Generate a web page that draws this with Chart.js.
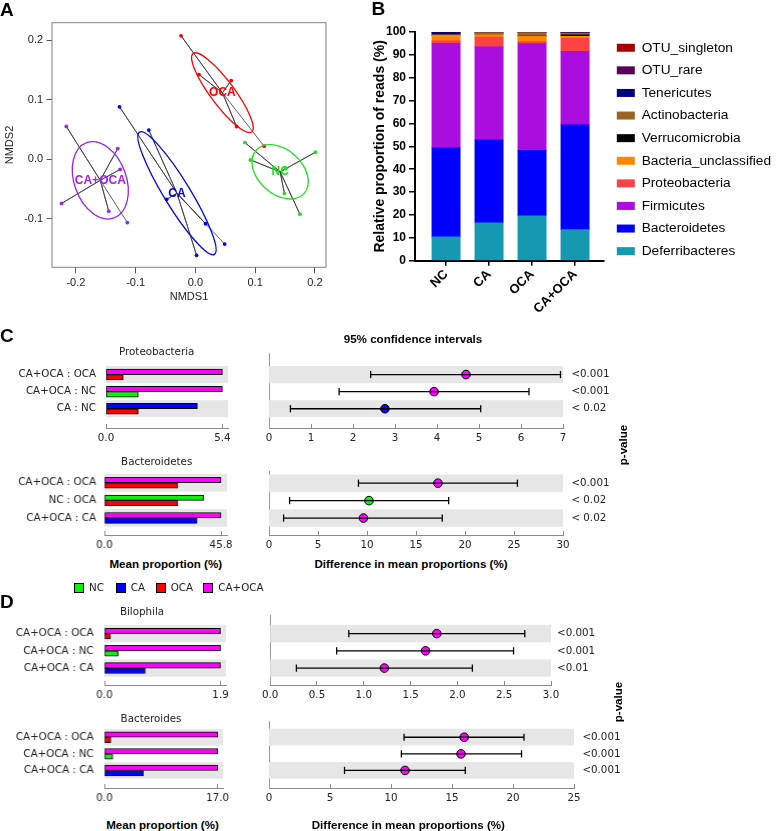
<!DOCTYPE html>
<html>
<head>
<meta charset="utf-8">
<title>Microbiota figure</title>
<script src="https://cdn.jsdelivr.net/npm/chart.js@4.4.1/dist/chart.umd.min.js"></script>
<style>
  html, body { margin: 0; padding: 0; background: #fff; }
  body { position: relative; width: 777px; height: 831px; overflow: hidden; }
  canvas { position: absolute; }
  .txt { position: absolute; white-space: nowrap; line-height: 1; color: #000; }
</style>
</head>
<body>
<script>
// ---------- A: NMDS ordination ----------
var nmdsGroups = ['NC', 'CA', 'OCA', 'CA+OCA'];
var ncNmds1 = [0.083, 0.092, 0.201, 0.149, 0.175, 0.151];
var ncNmds2 = [0.028, -0.001, 0.012, -0.057, -0.092, -0.016];
var caNmds1 = [-0.127, -0.078, -0.048, 0.017, 0.002, 0.049];
var caNmds2 = [0.088, 0.049, -0.067, -0.108, -0.161, -0.142];
var ocaNmds1 = [-0.024, 0.006, 0.060, 0.069, 0.115];
var ocaNmds2 = [0.207, 0.142, 0.132, 0.055, 0.022];
var caocaNmds1 = [-0.216, -0.130, -0.126, -0.224, -0.145, -0.114];
var caocaNmds2 = [0.055, 0.018, -0.017, -0.074, -0.087, -0.106];
var ellipseMajor = [0.054, 0.120, 0.082, 0.067];
var ellipseMinor = [0.037, 0.022, 0.020, 0.0435];
var ellipseAngle = [42, 58.5, 53.3, 70];
var nmdsTicksX = [-0.2, -0.1, 0, 0.1, 0.2];
var nmdsTicksY = [-0.1, 0, 0.1, 0.2];

// ---------- B: relative abundance (%) ----------
var readGroups = ['NC', 'CA', 'OCA', 'CA+OCA'];
var phyla = ['Deferribacteres', 'Bacteroidetes', 'Firmicutes', 'Proteobacteria', 'Bacteria_unclassified',
  'Verrucomicrobia', 'Actinobacteria', 'Tenericutes', 'OTU_rare', 'OTU_singleton'];
var deferribacteres = [10.4, 16.6, 19.6, 13.6];
var bacteroidetes = [38.9, 36.2, 28.7, 45.8];
var firmicutes = [45.7, 40.7, 46.6, 32.2];
var proteobacteria = [1.3, 4.3, 0.9, 5.6];
var bacteriaUnclassified = [2.2, 1.1, 2.3, 0.9];
var verrucomicrobia = [0.1, 0.1, 0.1, 0.7];
var actinobacteria = [0.3, 0.8, 1.5, 0.7];
var tenericutes = [0.8, 0.1, 0.1, 0.1];
var otuRare = [0.2, 0.1, 0.2, 0.3];
var otuSingleton = [0.1, 0.0, 0.0, 0.1];

// ---------- C / D: STAMP style comparisons ----------
var proteoRows = ['CA+OCA : OCA', 'CA+OCA : NC', 'CA : NC'];
var proteoMeanA = [5.4, 5.4, 4.24];
var proteoMeanB = [0.80, 1.50, 1.50];
var proteoGrpA = ['CA+OCA', 'CA+OCA', 'CA'];
var proteoGrpB = ['OCA', 'NC', 'OCA'];
var proteoDiff = [4.69, 3.93, 2.76];
var proteoLo = [2.42, 1.67, 0.51];
var proteoHi = [6.94, 6.19, 5.04];
var proteoDot = ['CA+OCA', 'CA+OCA', 'CA'];
var proteoP = ['<0.001', '<0.001', '< 0.02'];
var proteoBarTicks = [0, 5.4];
var proteoCiTicks = [0, 1, 2, 3, 4, 5, 6, 7];

var bacteroidetesRows = ['CA+OCA : OCA', 'NC : OCA', 'CA+OCA : CA'];
var bacteroidetesMeanA = [45.8, 39.0, 45.8];
var bacteroidetesMeanB = [28.8, 28.8, 36.4];
var bacteroidetesGrpA = ['CA+OCA', 'NC', 'CA+OCA'];
var bacteroidetesGrpB = ['OCA', 'OCA', 'CA'];
var bacteroidetesDiff = [17.24, 10.2, 9.64];
var bacteroidetesLo = [9.13, 2.1, 1.49];
var bacteroidetesHi = [25.35, 18.33, 17.68];
var bacteroidetesDot = ['CA+OCA', 'NC', 'CA+OCA'];
var bacteroidetesP = ['<0.001', '< 0.02', '< 0.02'];
var bacteroidetesBarTicks = [0, 45.8];
var bacteroidetesCiTicks = [0, 5, 10, 15, 20, 25, 30];

var bilophilaRows = ['CA+OCA : OCA', 'CA+OCA : NC', 'CA+OCA : CA'];
var bilophilaMeanA = [1.9, 1.9, 1.9];
var bilophilaMeanB = [0.098, 0.224, 0.666];
var bilophilaGrpA = ['CA+OCA', 'CA+OCA', 'CA+OCA'];
var bilophilaGrpB = ['OCA', 'NC', 'CA'];
var bilophilaDiff = [1.78, 1.66, 1.22];
var bilophilaLo = [0.84, 0.71, 0.28];
var bilophilaHi = [2.72, 2.60, 2.16];
var bilophilaDot = ['CA+OCA', 'CA+OCA', 'CA+OCA'];
var bilophilaP = ['<0.001', '<0.001', '<0.01'];
var bilophilaBarTicks = [0, 1.9];
var bilophilaCiTicks = [0, 0.5, 1, 1.5, 2, 2.5, 3];

var bacteroidesRows = ['CA+OCA : OCA', 'CA+OCA : NC', 'CA+OCA : CA'];
var bacteroidesMeanA = [17.0, 17.0, 17.0];
var bacteroidesMeanB = [0.95, 1.25, 5.85];
var bacteroidesGrpA = ['CA+OCA', 'CA+OCA', 'CA+OCA'];
var bacteroidesGrpB = ['OCA', 'NC', 'CA'];
var bacteroidesDiff = [16.0, 15.74, 11.15];
var bacteroidesLo = [11.07, 10.85, 6.19];
var bacteroidesHi = [20.9, 20.7, 16.09];
var bacteroidesDot = ['CA+OCA', 'CA+OCA', 'CA+OCA'];
var bacteroidesP = ['<0.001', '<0.001', '<0.001'];
var bacteroidesBarTicks = [0, 17.0];
var bacteroidesCiTicks = [0, 5, 10, 15, 20, 25];

// ---------- styles & helpers ----------
var SANS = '"Liberation Sans", Arial, sans-serif';
var VERD = '"DejaVu Sans", Verdana, sans-serif';

Chart.defaults.animation = false;
Chart.defaults.events = [];
Chart.defaults.color = '#000';
Chart.defaults.font.family = SANS;
Chart.defaults.plugins.legend.display = false;
Chart.defaults.plugins.tooltip.enabled = false;

function addCanvas(left, top, w, h) {
  var c = document.createElement('canvas');
  c.width = w; c.height = h;
  c.style.left = left + 'px'; c.style.top = top + 'px';
  c.style.width = w + 'px'; c.style.height = h + 'px';
  document.body.appendChild(c);
  return c.getContext('2d');
}

function addText(text, x, y, css, tf) {
  var d = document.createElement('div');
  d.className = 'txt';
  d.textContent = text;
  d.style.cssText += css;
  d.style.left = x + 'px';
  d.style.top = y + 'px';
  d.style.transform = tf || 'translate(-50%, -50%)';
  document.body.appendChild(d);
  return d;
}

function fixedTicks(arr) {
  return function (s) { s.ticks = arr.map(function (v) { return { value: v }; }); };
}

// ---------- panel A ----------
var nmdsX = [ncNmds1, caNmds1, ocaNmds1, caocaNmds1];
var nmdsY = [ncNmds2, caNmds2, ocaNmds2, caocaNmds2];
var nmdsColors = ['#22dd22', '#0000ff', '#ff0000', '#a020f0'];

var centroids = nmdsX.map(function (xs, g) {
  var ys = nmdsY[g];
  var sx = 0, sy = 0;
  xs.forEach(function (v, i) { sx += v; sy += ys[i]; });
  return { x: sx / xs.length, y: sy / xs.length };
});

var nmdsSets = nmdsX.map(function (xs, g) {
  var pts = [];
  xs.forEach(function (v, i) { pts.push(centroids[g], { x: v, y: nmdsY[g][i] }); });
  return {
    data: pts, showLine: true, borderColor: '#3a3a3a', borderWidth: 0.8,
    pointRadius: function (ctx) { return ctx.dataIndex % 2 ? 1.9 : 0; },
    pointBackgroundColor: nmdsColors[g], pointBorderWidth: 0
  };
});

var nmdsPlugin = {
  id: 'nmdsExtras',
  afterDatasetsDraw: function (chart) {
    var ctx = chart.ctx, a = chart.chartArea;
    var sx = chart.scales.x, sy = chart.scales.y;
    var ppu = sx.getPixelForValue(1) - sx.getPixelForValue(0);
    ctx.save();
    ctx.strokeStyle = '#808080';
    ctx.lineWidth = 1;
    ctx.strokeRect(a.left, a.top, a.right - a.left, a.bottom - a.top);
    nmdsGroups.forEach(function (g, i) {
      ctx.beginPath();
      ctx.ellipse(sx.getPixelForValue(centroids[i].x), sy.getPixelForValue(centroids[i].y),
        ellipseMajor[i] * ppu, ellipseMinor[i] * ppu, ellipseAngle[i] * Math.PI / 180, 0, 2 * Math.PI);
      ctx.strokeStyle = nmdsColors[i];
      ctx.lineWidth = 1.3;
      ctx.stroke();
    });
    ctx.font = 'bold 12px ' + SANS;
    ctx.textAlign = 'center';
    ctx.textBaseline = 'middle';
    nmdsGroups.forEach(function (g, i) {
      ctx.fillStyle = nmdsColors[i];
      ctx.fillText(g, sx.getPixelForValue(centroids[i].x), sy.getPixelForValue(centroids[i].y));
    });
    ctx.restore();
  }
};

new Chart(addCanvas(0, 0, 340, 305), {
  type: 'scatter',
  data: { datasets: nmdsSets },
  options: {
    responsive: false,
    layout: { padding: { left: 0, top: 22.7, right: 14, bottom: 0 } },
    scales: {
      x: {
        type: 'linear', min: -0.240, max: 0.2186,
        afterBuildTicks: fixedTicks(nmdsTicksX),
        afterFit: function (s) { s.height = 37.7; },
        grid: { drawOnChartArea: false, tickLength: 6, color: '#555' },
        border: { display: false },
        ticks: { font: { size: 11 }, color: '#222', padding: 3, callback: function (v) { return v.toFixed(1); } },
        title: { display: true, text: 'NMDS1', font: { size: 11 }, color: '#222', padding: { top: 0, bottom: 1.4 } }
      },
      y: {
        type: 'linear', min: -0.181, max: 0.229,
        afterBuildTicks: fixedTicks(nmdsTicksY),
        afterFit: function (s) { s.width = 52; },
        grid: { drawOnChartArea: false, tickLength: 5.5, color: '#555' },
        border: { display: false },
        ticks: { font: { size: 11 }, color: '#222', padding: 3.4, callback: function (v) { return v.toFixed(1); } },
        title: { display: true, text: 'NMDS2', font: { size: 11 }, color: '#222', padding: { top: 3.4, bottom: 0 } }
      }
    }
  },
  plugins: [nmdsPlugin]
});

// ---------- panel B ----------
var phylumSeries = [deferribacteres, bacteroidetes, firmicutes, proteobacteria, bacteriaUnclassified,
  verrucomicrobia, actinobacteria, tenericutes, otuRare, otuSingleton];
var phylumColors = ['#1598b2', '#0000ff', '#a90ddf', '#fd4245', '#ff8800',
  '#000000', '#9c6423', '#000080', '#5c0055', '#a50000'];

new Chart(addCanvas(340, 0, 441, 330), {
  type: 'bar',
  data: {
    datasets: phyla.map(function (name, k) {
      return {
        label: name,
        data: phylumSeries[k].map(function (v, i) { return { x: i + 1, y: v }; }),
        backgroundColor: phylumColors[k], borderWidth: 0, barThickness: 28.3
      };
    })
  },
  options: {
    responsive: false,
    layout: { padding: { left: 0, top: 32, right: 0, bottom: 0 } },
    scales: {
      x: {
        type: 'linear', offset: false, stacked: true, min: 0.278, max: 4.676,
        afterBuildTicks: fixedTicks(readGroups.map(function (g, i) { return i + 1; })),
        afterFit: function (s) { s.height = 69.3; },
        grid: { drawOnChartArea: false, offset: false, tickLength: 5, color: '#000', lineWidth: 1.5 },
        border: { color: '#000', width: 2 },
        ticks: {
          autoSkip: false, maxRotation: 45, minRotation: 45, padding: 1,
          font: { size: 13, weight: 'bold' }, color: '#000',
          callback: function (v) { return readGroups[v - 1]; }
        }
      },
      y: {
        stacked: true, min: 0, max: 100,
        afterFit: function (s) { s.width = 75; },
        grid: { drawOnChartArea: false, tickLength: 6, color: '#000', lineWidth: 1.5 },
        border: { color: '#000', width: 2 },
        ticks: { stepSize: 10, font: { size: 12, weight: 'bold' }, color: '#000', padding: 3 },
        title: { display: true, text: 'Relative proportion of reads (%)', font: { size: 14, weight: 'bold' }, color: '#000', padding: { top: 31.6, bottom: 0 } }
      },
      yR: {
        position: 'right', display: true,
        grid: { display: false, drawTicks: false }, ticks: { display: false }, border: { display: false },
        afterFit: function (s) { s.width = 3.8; }
      }
    },
    plugins: {
      legend: {
        display: true, position: 'right', align: 'start', reverse: true, maxWidth: 230,
        labels: { boxWidth: 18, boxHeight: 8, padding: 8.9, color: '#000', font: { size: 13.7 } }
      }
    }
  }
});

// ---------- panels C / D ----------
var groupColor = { 'NC': '#10f010', 'CA': '#0000ff', 'OCA': '#ff0000', 'CA+OCA': '#ff00ff' };

var cdData = [
  { rows: proteoRows, meanA: proteoMeanA, meanB: proteoMeanB, grpA: proteoGrpA, grpB: proteoGrpB, diff: proteoDiff,
    lo: proteoLo, hi: proteoHi, dot: proteoDot, p: proteoP, barTicks: proteoBarTicks, ciTicks: proteoCiTicks },
  { rows: bacteroidetesRows, meanA: bacteroidetesMeanA, meanB: bacteroidetesMeanB, grpA: bacteroidetesGrpA, grpB: bacteroidetesGrpB, diff: bacteroidetesDiff,
    lo: bacteroidetesLo, hi: bacteroidetesHi, dot: bacteroidetesDot, p: bacteroidetesP, barTicks: bacteroidetesBarTicks, ciTicks: bacteroidetesCiTicks },
  { rows: bilophilaRows, meanA: bilophilaMeanA, meanB: bilophilaMeanB, grpA: bilophilaGrpA, grpB: bilophilaGrpB, diff: bilophilaDiff,
    lo: bilophilaLo, hi: bilophilaHi, dot: bilophilaDot, p: bilophilaP, barTicks: bilophilaBarTicks, ciTicks: bilophilaCiTicks },
  { rows: bacteroidesRows, meanA: bacteroidesMeanA, meanB: bacteroidesMeanB, grpA: bacteroidesGrpA, grpB: bacteroidesGrpB, diff: bacteroidesDiff,
    lo: bacteroidesLo, hi: bacteroidesHi, dot: bacteroidesDot, p: bacteroidesP, barTicks: bacteroidesBarTicks, ciTicks: bacteroidesCiTicks }
];

// pixel layout of each sub panel
var cdLayout = [
  { bandTop: 366, rowH: 17.1, axisY: 428, dashTop: 353, barL: 106, barR: 228.3, barMax: 5.66, labR: 96, ciL: 268.7, ciR: 563.3, ciMax: 7, dec: 0, pX: 571.7 },
  { bandTop: 474, rowH: 17.57, axisY: 535, dashTop: 470.5, barL: 104, barR: 226.7, barMax: 48.15, labR: 95.7, ciL: 268.7, ciR: 563.3, ciMax: 30, dec: 0, pX: 571.7 },
  { bandTop: 625, rowH: 17.23, axisY: 685, dashTop: 615, barL: 104, barR: 225.7, barMax: 1.99, labR: 93.3, ciL: 268.7, ciR: 550.7, ciMax: 3, dec: 1, pX: 556.7 },
  { bandTop: 729, rowH: 16.67, axisY: 788.3, dashTop: 721, barL: 104, barR: 222.7, barMax: 17.8, labR: 93.3, ciL: 268.7, ciR: 574.3, ciMax: 25, dec: 0, pX: 582.7 }
];

var bandPlugin = {
  id: 'bands',
  beforeDatasetsDraw: function (chart, args, opts) {
    if (!opts.rows) return;
    var ctx = chart.ctx, a = chart.chartArea, y = chart.scales.y;
    ctx.save();
    ctx.fillStyle = '#e6e6e6';
    opts.rows.forEach(function (r) {
      var t = y.getPixelForValue(r - 0.5), b = y.getPixelForValue(r + 0.5);
      ctx.fillRect(a.left, t, a.right - a.left, b - t);
    });
    ctx.restore();
  }
};

var tickFont = { family: VERD, size: 10.3 };

cdData.forEach(function (d, k) {
  var L = cdLayout[k];
  var padT = 20;
  var yMax = 2.5 + (L.axisY - (L.bandTop + 3 * L.rowH)) / L.rowH;
  var rowTicks = d.rows.map(function (r, i) { return i; });

  function barSet(vals, grps) {
    return {
      data: vals.map(function (v, i) { return { x: v, y: i }; }),
      backgroundColor: grps.map(function (g) { return groupColor[g]; }),
      borderColor: '#000', borderWidth: 1, borderSkipped: false, barThickness: 5.4
    };
  }

  new Chart(addCanvas(0, L.bandTop - padT, L.barR + 20, L.axisY - L.bandTop + padT + 20), {
    type: 'bar',
    data: { datasets: [barSet(d.meanA, d.grpA), barSet(d.meanB, d.grpB)] },
    options: {
      responsive: false,
      indexAxis: 'y',
      layout: { padding: { left: 0, top: padT, right: 20, bottom: 0 } },
      plugins: { bands: { rows: [0, 2] } },
      scales: {
        y: {
          type: 'linear', reverse: true, offset: false, min: -0.5, max: yMax,
          afterBuildTicks: fixedTicks(rowTicks),
          afterFit: function (s) { s.width = L.barL; },
          grid: { display: false, drawTicks: false, offset: false },
          border: { display: false },
          ticks: { font: tickFont, color: '#222', padding: L.barL - L.labR, callback: function (v) { return d.rows[v]; } }
        },
        x: {
          type: 'linear', min: 0, max: L.barMax,
          afterBuildTicks: fixedTicks(d.barTicks),
          afterFit: function (s) { s.height = 20; },
          grid: { drawOnChartArea: false, tickLength: -4, color: '#888' },
          border: { color: '#888', width: 1 },
          ticks: { font: tickFont, color: '#222', padding: 8, callback: function (v) { return v.toFixed(1); } }
        }
      }
    },
    plugins: [bandPlugin]
  });

  var ciMin = -0.5 - (L.bandTop - L.dashTop) / L.rowH;
  var padL = 15;
  var ciSets = d.rows.map(function (r, i) {
    return {
      data: [{ x: d.lo[i], y: i }, { x: d.hi[i], y: i }],
      showLine: true, borderColor: '#000', borderWidth: 1.3,
      pointStyle: 'line', rotation: 90, pointRadius: 3.6,
      pointBorderColor: '#000', pointBorderWidth: 1.3
    };
  });
  ciSets.push({
    data: d.diff.map(function (v, i) { return { x: v, y: i }; }),
    pointRadius: 4.3,
    pointBackgroundColor: d.dot.map(function (g) { return groupColor[g]; }),
    pointBorderColor: '#000', pointBorderWidth: 1
  });

  new Chart(addCanvas(L.ciL - padL, L.dashTop - padT, L.ciR - L.ciL + padL + 65, L.axisY - L.dashTop + padT + 20), {
    type: 'scatter',
    data: { datasets: ciSets },
    options: {
      responsive: false,
      layout: { padding: { left: padL, top: padT, right: 5, bottom: 0 } },
      plugins: { bands: { rows: [0, 2] } },
      scales: {
        x: {
          type: 'linear', min: 0, max: L.ciMax,
          afterBuildTicks: fixedTicks(d.ciTicks),
          afterFit: function (s) { s.height = 20; },
          grid: { drawOnChartArea: false, tickLength: -4, color: '#888' },
          border: { color: '#888', width: 1 },
          ticks: { font: tickFont, color: '#222', padding: 8, callback: function (v) { return v.toFixed(L.dec); } }
        },
        y: {
          type: 'linear', reverse: true, min: ciMin, max: yMax,
          afterFit: function (s) { s.width = 0; },
          ticks: { display: false },
          grid: { display: false, drawTicks: false },
          border: { display: true, dash: [4, 3], color: '#999', width: 1 }
        },
        y2: {
          type: 'linear', position: 'right', reverse: true, min: ciMin, max: yMax,
          afterBuildTicks: fixedTicks(rowTicks),
          afterFit: function (s) { s.width = 60; },
          grid: { display: false, drawTicks: false },
          border: { display: false },
          ticks: { font: tickFont, color: '#222', padding: L.pX - L.ciR, callback: function (v) { return d.p[v]; } }
        }
      }
    },
    plugins: [bandPlugin]
  });
});

// ---------- text ----------
var letterCss = 'font: bold 19px ' + SANS + ';';
addText('A', 0, 9.5, letterCss, 'translate(0, -50%)');
addText('B', 371.5, 9, letterCss, 'translate(0, -50%)');
addText('C', 0, 336.3, letterCss, 'translate(0, -50%)');
addText('D', 0, 601.7, letterCss, 'translate(0, -50%)');

var boldCss = 'font: bold 11.6px ' + SANS + ';';
var plainCss = 'font: 10.3px ' + VERD + '; color: #222;';
addText('95% confidence intervals', 413, 338.3, boldCss);
addText('Proteobacteria', 156.7, 351, plainCss);
addText('Bacteroidetes', 156.7, 461, plainCss);
addText('Mean proportion (%)', 165.8, 563, boldCss);
addText('Difference in mean proportions (%)', 411, 563, boldCss);
addText('p-value', 621.7, 445, boldCss, 'translate(-50%, -50%) rotate(-90deg)');
addText('Bilophila', 142, 611, plainCss);
addText('Bacteroides', 151, 718, plainCss);
addText('Mean proportion (%)', 162.5, 824, boldCss);
addText('Difference in mean proportions (%)', 408.3, 824, boldCss);
addText('p-value', 616.7, 701.7, boldCss, 'translate(-50%, -50%) rotate(-90deg)');

// legend of C / D
var cdLegendX = [74, 115.7, 155.7, 203.3];
nmdsGroups.forEach(function (g, i) {
  var sq = document.createElement('div');
  sq.style.cssText = 'position:absolute;width:8px;height:8px;border:1px solid #000;';
  sq.style.left = cdLegendX[i] + 'px';
  sq.style.top = '582.5px';
  sq.style.background = groupColor[g];
  document.body.appendChild(sq);
  addText(g, cdLegendX[i] + 15, 587, plainCss, 'translate(0, -50%)');
});
</script>
</body>
</html>
